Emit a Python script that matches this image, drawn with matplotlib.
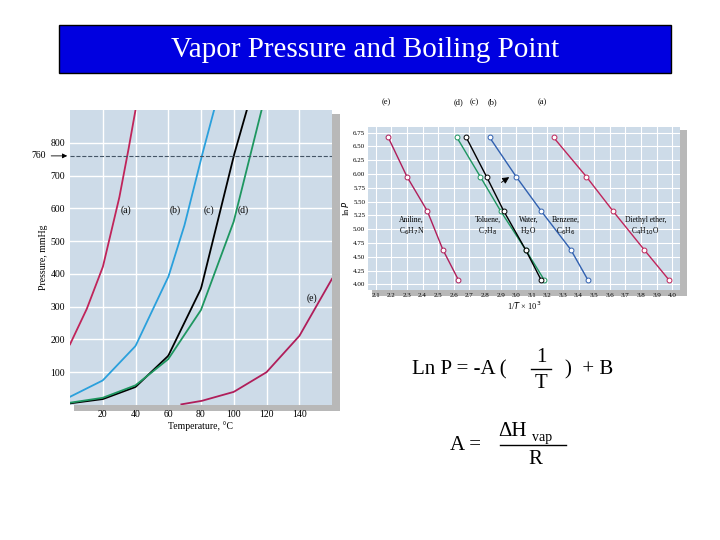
import numpy as np
import matplotlib.pyplot as plt
from matplotlib.patches import Rectangle

# Left chart: vapor pressure curves (temp in C, pressure in mmHg)
temp_a = [0, 10, 20, 30, 35, 40]
pres_a = [185, 290, 420, 630, 760, 900]
temp_b = [0, 20, 40, 60, 70, 80, 88]
pres_b = [25, 75, 180, 390, 550, 750, 900]
temp_c = [0, 20, 40, 60, 80, 100, 108]
pres_c = [5, 18, 55, 150, 355, 760, 900]
temp_d = [0, 20, 40, 60, 80, 100, 110, 117]
pres_d = [7, 22, 60, 140, 290, 560, 760, 900]
temp_e = [68, 80, 100, 120, 140, 160]
pres_e = [2, 12, 40, 100, 210, 385]

# Right chart: ln P vs 1/T x 10^3
lnp = [6.66, 5.95, 5.33, 4.63, 4.08]
invt_e = [2.18, 2.30, 2.43, 2.53, 2.63]
invt_d = [2.62, 2.77, 2.90, 3.06, 3.18]
invt_c = [2.68, 2.81, 2.92, 3.06, 3.16]
invt_b = [2.83, 3.00, 3.16, 3.35, 3.46]
invt_a = [3.24, 3.45, 3.62, 3.82, 3.98]

col_a = '#c0245a'
col_b = '#2aa0dc'
col_c = 'black'
col_d = '#1e9660'
col_e = '#b01e5a'
bg = '#cddbe8'

fig = plt.figure(figsize=(7.2, 5.4), dpi=100)
W, H = 720, 540

def box(x0, y0, x1, y1):
    return [x0 / W, 1 - y1 / H, (x1 - x0) / W, (y1 - y0) / H]

# title bar
fig.patches.append(Rectangle((59 / W, 1 - 73 / H), 612 / W, 48 / H, transform=fig.transFigure,
                             facecolor='#0000e0', edgecolor='black', lw=1))
fig.text(365 / W, 1 - 50 / H, 'Vapor Pressure and Boiling Point', color='white',
         fontsize=21, family='Liberation Serif', ha='center', va='center')

# shadows behind the plots
fig.patches.append(Rectangle((74 / W, 1 - 411 / H), 266 / W, 297 / H, transform=fig.transFigure,
                             facecolor='#b8b8b8', edgecolor='none', zorder=-5))
fig.patches.append(Rectangle((372 / W, 1 - 296 / H), 315 / W, 166 / H, transform=fig.transFigure,
                             facecolor='#b8b8b8', edgecolor='none', zorder=-5))

serif = 'Liberation Serif'

ax = fig.add_axes(box(70, 110, 332, 405))
ax.set_zorder(2)
ax.set_facecolor(bg)
for t, p, c in [(temp_a, pres_a, col_a), (temp_b, pres_b, col_b), (temp_c, pres_c, col_c),
                (temp_d, pres_d, col_d), (temp_e, pres_e, col_e)]:
    tt = np.linspace(t[0], t[-1], 200)
    ax.plot(tt, np.interp(tt, t, p), color=c, lw=1.3)
ax.axhline(760, color='#445566', ls='--', lw=0.8)
ax.set_xlim(0, 160)
ax.set_ylim(0, 900)
ax.set_xticks([20, 40, 60, 80, 100, 120, 140])
ax.set_yticks([100, 200, 300, 400, 500, 600, 700, 800])
ax.grid(color='white', lw=1)
ax.tick_params(labelsize=7, length=0)
for lab in ax.get_xticklabels() + ax.get_yticklabels():
    lab.set_family(serif)
for s in ax.spines.values():
    s.set_visible(False)
ax.set_xlabel('Temperature, °C', fontsize=7, family=serif, labelpad=2)
ax.set_ylabel('Pressure, mmHg', fontsize=7, family=serif, labelpad=2)
ax.annotate('760', xy=(0, 760), xytext=(-28, 0), textcoords='offset points',
            xycoords=('axes fraction', 'data'), fontsize=7, family=serif, va='center',
            arrowprops=dict(arrowstyle='-|>', color='black', lw=0.6))
for x, y, s in [(34, 595, '(a)'), (64, 595, '(b)'), (85, 595, '(c)'), (106, 595, '(d)'), (148, 325, '(e)')]:
    ax.text(x, y, s, fontsize=7, family=serif, ha='center', va='center')

ax2 = fig.add_axes(box(368, 127, 680, 290))
ax2.set_zorder(2)
ax2.set_facecolor(bg)
for xs, c in [(invt_e, col_e), (invt_d, col_d), (invt_c, col_c), (invt_b, '#3060b0'), (invt_a, col_a)]:
    ax2.plot(xs, lnp, color=c, lw=1, marker='o', ms=3.5, mfc='white', mec=c, mew=0.7)
ax2.set_xlim(2.05, 4.05)
ax2.set_ylim(3.9, 6.85)
ax2.set_xticks(np.round(np.arange(2.1, 4.01, 0.1), 1))
ax2.set_xticklabels([f'{v:.1f}' for v in np.arange(2.1, 4.01, 0.1)])
ax2.set_yticks(np.arange(4.0, 6.76, 0.25))
ax2.set_yticklabels([f'{v:.2f}' for v in np.arange(4.0, 6.76, 0.25)])
ax2.grid(color='white', lw=0.8)
ax2.tick_params(labelsize=5, length=0, pad=2)
for lab in ax2.get_xticklabels() + ax2.get_yticklabels():
    lab.set_family(serif)
for s in ax2.spines.values():
    s.set_visible(False)
ax2.set_xlabel(r'1/$T$ × 10$^3$', fontsize=6, family=serif, labelpad=1)
ax2.set_ylabel(r'ln $P$', fontsize=6, family=serif, labelpad=1)
for x, y, s in [(2.33, 5.05, 'Aniline,\nC$_6$H$_7$N'), (2.82, 5.05, 'Toluene,\nC$_7$H$_8$'),
                (3.08, 5.05, 'Water,\nH$_2$O'), (3.32, 5.05, 'Benzene,\nC$_6$H$_6$'),
                (3.83, 5.05, 'Diethyl ether,\nC$_4$H$_{10}$O')]:
    ax2.text(x, y, s, fontsize=5.5, family=serif, ha='center', va='center', linespacing=1.3)
ax2.annotate('', xy=(2.97, 5.97), xytext=(2.89, 5.82),
             arrowprops=dict(arrowstyle='-|>', color='black', lw=0.6))
for x, s in [(2.17, '(e)'), (2.63, '(d)'), (2.73, '(c)'), (2.85, '(b)'), (3.17, '(a)')]:
    ax2.text(x, 7.3, s, fontsize=6, family=serif, ha='center', va='center')

# equations
fig.text(412 / W, 1 - 370 / H, 'Ln P = -A (', fontsize=15, family=serif, va='center')
fig.text(541 / W, 1 - 357 / H, '1', fontsize=15, family=serif, ha='center', va='center')
fig.lines.append(plt.Line2D([531 / W, 551 / W], [1 - 369 / H] * 2, color='black', lw=1, transform=fig.transFigure))
fig.text(541 / W, 1 - 383 / H, 'T', fontsize=15, family=serif, ha='center', va='center')
fig.text(565 / W, 1 - 370 / H, ')  + B', fontsize=15, family=serif, va='center')
fig.text(450 / W, 1 - 446 / H, 'A =', fontsize=15, family=serif, va='center')
fig.text(498 / W, 1 - 431 / H, 'ΔH', fontsize=15, family=serif, va='center')
fig.text(532 / W, 1 - 437 / H, 'vap', fontsize=10, family=serif, va='center')
fig.lines.append(plt.Line2D([500 / W, 566 / W], [1 - 445 / H] * 2, color='black', lw=1, transform=fig.transFigure))
fig.text(535 / W, 1 - 460 / H, 'R', fontsize=15, family=serif, ha='center', va='center')

fig.savefig('out.png', dpi=100)
